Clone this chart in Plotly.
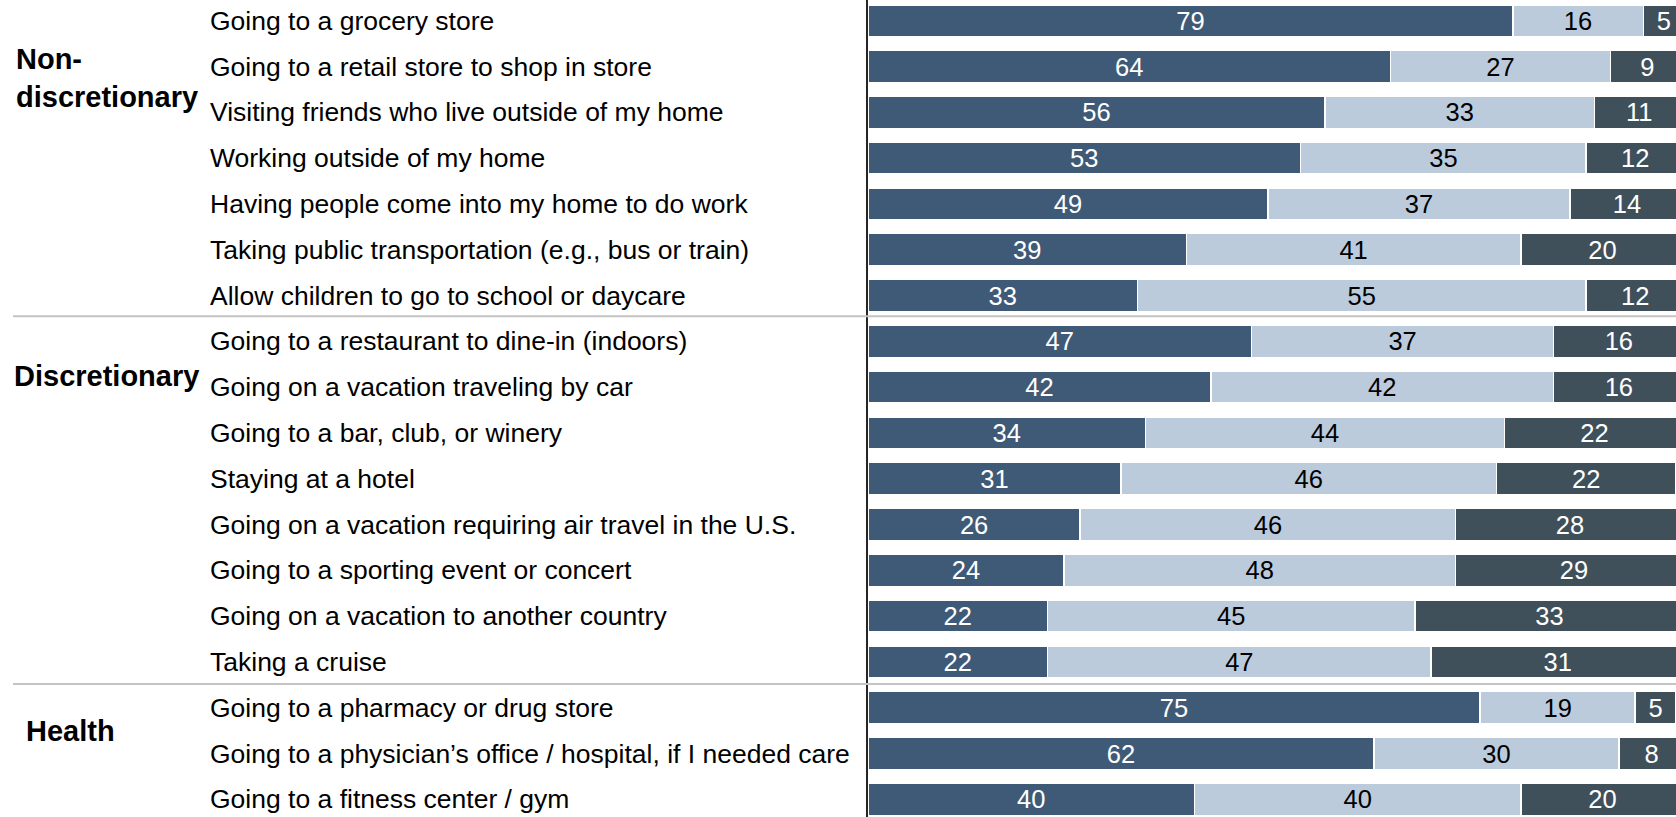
import plotly.graph_objects as go

# Activities (top to bottom) and the three response shares (percent)
activities = [
    "Going to a grocery store",
    "Going to a retail store to shop in store",
    "Visiting friends who live outside of my home",
    "Working outside of my home",
    "Having people come into my home to do work",
    "Taking public transportation (e.g., bus or train)",
    "Allow children to go to school or daycare",
    "Going to a restaurant to dine-in (indoors)",
    "Going on a vacation traveling by car",
    "Going to a bar, club, or winery",
    "Staying at a hotel",
    "Going on a vacation requiring air travel in the U.S.",
    "Going to a sporting event or concert",
    "Going on a vacation to another country",
    "Taking a cruise",
    "Going to a pharmacy or drug store",
    "Going to a physician\u2019s office / hospital, if I needed care",
    "Going to a fitness center / gym",
]
share_a = [79, 64, 56, 53, 49, 39, 33, 47, 42, 34, 31, 26, 24, 22, 22, 75, 62, 40]
share_b = [16, 27, 33, 35, 37, 41, 55, 37, 42, 44, 46, 46, 48, 45, 47, 19, 30, 40]
share_c = [5, 9, 11, 12, 14, 20, 12, 16, 16, 22, 22, 28, 29, 33, 31, 5, 8, 20]

# Group headings: (label, position along the category axis, left edge in px)
groups = [
    ("Non-<br>discretionary", 1.24, 14),
    ("Discretionary", 7.75, 12),
    ("Health", 15.5, 24),
]
# Dividers between the groups (category-axis positions)
dividers = [6.45, 14.48]

W, H = 1676, 817
FONT = "Arial, Liberation Sans, sans-serif"

series = [
    (share_a, "#3F5A77", "white"),
    (share_b, "#BBCBDC", "black"),
    (share_c, "#3F505B", "white"),
]

fig = go.Figure()
for vals, color, tcolor in series:
    fig.add_trace(go.Bar(
        y=activities,
        x=vals,
        orientation="h",
        marker=dict(color=color, line=dict(color="white", width=1.5)),
        text=vals,
        texttemplate="%{text}",
        textposition="inside",
        insidetextanchor="middle",
        textangle=0,
        textfont=dict(family=FONT, size=25.5, color=tcolor),
        hoverinfo="skip",
        showlegend=False,
    ))

annotations = []
for name in activities:
    annotations.append(dict(
        x=208 / W, xref="paper", xanchor="left",
        y=name, yref="y", yanchor="middle",
        text=name, showarrow=False,
        font=dict(family=FONT, size=26.5, color="black"),
    ))
for label, pos, left in groups:
    annotations.append(dict(
        x=left / W, xref="paper", xanchor="left",
        y=pos, yref="y", yanchor="middle",
        text=f"<b>{label}</b>", showarrow=False, align="left",
        font=dict(family=FONT, size=29, color="black"),
    ))

shapes = [
    dict(type="line", xref="paper", yref="y", x0=13 / W, x1=1, y0=d, y1=d,
         line=dict(color="#C4C4C4", width=2), layer="above")
    for d in dividers
]

fig.update_layout(
    width=W, height=H,
    margin=dict(l=0, r=0, t=0, b=0),
    paper_bgcolor="white", plot_bgcolor="white",
    barmode="stack", bargap=0.30,
    uniformtext=dict(minsize=25, mode="show"),
    annotations=annotations,
    shapes=shapes,
    xaxis=dict(domain=[868 / W, 1], range=[0, 99.0], visible=False, fixedrange=True),
    yaxis=dict(
        type="category", categoryorder="array", categoryarray=activities,
        range=[17.386, -0.454],
        showticklabels=False, showgrid=False, zeroline=False,
        showline=True, linecolor="#262626", linewidth=2,
        ticks="", fixedrange=True,
    ),
)

fig.write_html("out.html")
